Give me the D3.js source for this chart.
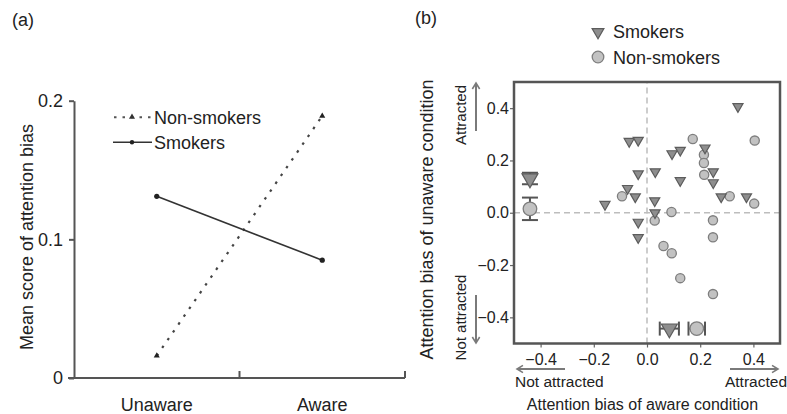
<!DOCTYPE html>
<html><head><meta charset="utf-8">
<script src="https://cdn.jsdelivr.net/npm/d3@7"></script>
<style>body{margin:0;background:#fff}text{font-family:"Liberation Sans",Arial,sans-serif;fill:#222}</style>
</head><body>
<svg id="c" width="787" height="414"></svg>
<script>
// ---- Panel (a) data ----
const conditions = ["Unaware", "Aware"];
const smokersMean = [0.131, 0.085];
const nonSmokersMean = [0.016, 0.189];
const yTicksA = [0, 0.1, 0.2];

// ---- Panel (b) data (x = aware bias, y = unaware bias) ----
const smokersX = [0.342, -0.067, -0.033, 0.218, 0.094, 0.125, -0.033, 0.031, 0.249, 0.249, 0.125, -0.073, -0.044, -0.158, 0.029, 0.030, -0.033, -0.033, 0.279, 0.374];
const smokersY = [0.406, 0.273, 0.277, 0.248, 0.226, 0.239, 0.149, 0.157, 0.157, 0.115, 0.123, 0.093, 0.061, 0.032, 0.046, 0.000, -0.036, -0.095, 0.061, 0.061];
const nonSmokersX = [0.172, 0.405, 0.214, 0.214, 0.215, -0.094, 0.311, 0.403, 0.092, 0.029, 0.248, 0.248, 0.062, 0.093, 0.125, 0.248];
const nonSmokersY = [0.282, 0.276, 0.222, 0.190, 0.145, 0.063, 0.063, 0.035, 0.003, -0.030, -0.029, -0.094, -0.127, -0.155, -0.250, -0.311];
// group means [unaware, aware] and standard errors
const smokersMeanB = [0.131, 0.084];
const smokersErrB = [0.022, 0.036];
const nonSmokersMeanB = [0.015, 0.187];
const nonSmokersErrB = [0.043, 0.031];
const meanPos = -0.44; // where the marginal means are placed
const ticksB = [-0.4, -0.2, 0, 0.2, 0.4];

const svg = d3.select("#c");
const axisCol = "#555";

// ================= Panel (a) =================
const xA = d3.scaleBand().domain(conditions).range([74, 405]);
const yA = d3.scaleLinear().domain([0, 0.2]).range([378, 100.7]);
const gA = svg.append("g");

gA.append("text").attr("x", 12).attr("y", 26).style("font-size", "18px").text("(a)");

// y axis
const yAx = gA.append("g").attr("transform", "translate(74,0)")
  .call(d3.axisLeft(yA).tickValues(yTicksA).tickSize(5).tickSizeOuter(0).tickPadding(6)
    .tickFormat(d => d === 0 ? "0" : d3.format(".1f")(d)));
yAx.selectAll("path,line").attr("stroke", axisCol).attr("stroke-width", 2);
yAx.selectAll("text").style("font-size", "18px").style("font-family", "Liberation Sans, Arial, sans-serif").attr("fill", "#222");

// x axis
const xAx = gA.append("g").attr("transform", "translate(0,378)")
  .call(d3.axisBottom(xA).tickSize(0).tickPadding(20));
xAx.select(".domain").remove();
xAx.selectAll("text").style("font-size", "18px").style("font-family", "Liberation Sans, Arial, sans-serif").attr("fill", "#222");
gA.append("line").attr("x1", 68).attr("x2", xA.range()[1]).attr("y1", 378).attr("y2", 378)
  .attr("stroke", axisCol).attr("stroke-width", 2);
conditions.forEach(c => {
  const xb = xA(c) + xA.bandwidth();
  gA.append("line").attr("x1", xb).attr("x2", xb).attr("y1", 378).attr("y2", 371)
    .attr("stroke", axisCol).attr("stroke-width", 2);
});

gA.append("text").attr("transform", "translate(33,237) rotate(-90)").attr("text-anchor", "middle")
  .style("font-size", "18px").text("Mean score of attention bias");

const cx = c => xA(c) + xA.bandwidth() / 2;
const lineA = d3.line().x((d, i) => cx(conditions[i])).y(d => yA(d));
gA.append("path").attr("d", lineA(nonSmokersMean)).attr("fill", "none")
  .attr("stroke", "#444").attr("stroke-width", 2.2).attr("stroke-dasharray", "2.5,7");
gA.append("path").attr("d", lineA(smokersMean)).attr("fill", "none")
  .attr("stroke", "#333").attr("stroke-width", 1.6);
const triSmall = d3.symbol().type(d3.symbolTriangle).size(16);
nonSmokersMean.forEach((v, i) => {
  gA.append("path").attr("d", triSmall()).attr("transform", `translate(${cx(conditions[i])},${yA(v)})`).attr("fill", "#222");
});
smokersMean.forEach((v, i) => {
  gA.append("circle").attr("cx", cx(conditions[i])).attr("cy", yA(v)).attr("r", 2.6).attr("fill", "#222");
});

// legend (a)
gA.append("line").attr("x1", 114).attr("x2", 152).attr("y1", 117.3).attr("y2", 117.3)
  .attr("stroke", "#555").attr("stroke-width", 2).attr("stroke-dasharray", "2.5,6");
gA.append("path").attr("d", triSmall()).attr("transform", "translate(132,117)").attr("fill", "#333");
gA.append("text").attr("x", 154).attr("y", 123.5).style("font-size", "18px").text("Non-smokers");
gA.append("line").attr("x1", 113).attr("x2", 152).attr("y1", 142.3).attr("y2", 142.3)
  .attr("stroke", "#333").attr("stroke-width", 1.6);
gA.append("circle").attr("cx", 132).attr("cy", 142.3).attr("r", 2.2).attr("fill", "#222");
gA.append("text").attr("x", 154).attr("y", 148.5).style("font-size", "18px").text("Smokers");

// ================= Panel (b) =================
const xB = d3.scaleLinear().domain([-0.5, 0.5]).range([514, 780]);
const yB = d3.scaleLinear().domain([-0.5, 0.5]).range([343.5, 82]);
const gB = svg.append("g");

gB.append("text").attr("x", 415).attr("y", 24).style("font-size", "18px").text("(b)");

// axes
const fmtB = d3.format(".1f");
const yBx = gB.append("g").attr("transform", `translate(${xB.range()[0]},0)`)
  .call(d3.axisLeft(yB).tickValues(ticksB).tickSize(4).tickSizeOuter(0).tickPadding(1).tickFormat(fmtB));
const xBx = gB.append("g").attr("transform", `translate(0,${yB.range()[0]})`)
  .call(d3.axisBottom(xB).tickValues(ticksB).tickSize(4).tickSizeOuter(0).tickPadding(6).tickFormat(fmtB));
[yBx, xBx].forEach(a => {
  a.select(".domain").remove();
  a.selectAll("line").attr("stroke", "#666").attr("stroke-width", 1.2);
  a.selectAll("text").style("font-size", "16px").style("font-family", "Liberation Sans, Arial, sans-serif").attr("fill", "#222");
});

// zero lines
gB.append("line").attr("x1", xB(0)).attr("x2", xB(0)).attr("y1", yB(-0.5)).attr("y2", yB(0.5))
  .attr("stroke", "#bdbdbd").attr("stroke-width", 1.5).attr("stroke-dasharray", "6,4");
gB.append("line").attr("x1", xB(-0.5)).attr("x2", xB(0.5)).attr("y1", yB(0)).attr("y2", yB(0))
  .attr("stroke", "#bdbdbd").attr("stroke-width", 1.5).attr("stroke-dasharray", "6,4");

// box
gB.append("rect").attr("x", xB(-0.5)).attr("y", yB(0.5))
  .attr("width", xB(0.5) - xB(-0.5)).attr("height", yB(-0.5) - yB(0.5))
  .attr("fill", "none").attr("stroke", axisCol).attr("stroke-width", 2.5);

const triB = d3.symbol().type(d3.symbolTriangle).size(44);
const triBig = d3.symbol().type(d3.symbolTriangle).size(110);
const triFill = "#8e8e8e", triStroke = "#5c5c5c";
const cirFill = "#c2c2c2", cirStroke = "#7e7e7e";

// individual points
nonSmokersX.forEach((x, i) => {
  gB.append("circle").attr("cx", xB(x)).attr("cy", yB(nonSmokersY[i])).attr("r", 4.6)
    .attr("fill", cirFill).attr("stroke", cirStroke).attr("stroke-width", 1.3);
});
smokersX.forEach((x, i) => {
  gB.append("path").attr("d", triB()).attr("transform", `translate(${xB(x)},${yB(smokersY[i])}) rotate(180)`)
    .attr("fill", triFill).attr("stroke", triStroke).attr("stroke-width", 1.2);
});

// marginal means with error bars
const capW = 8;
function vErr(xv, m, e) {
  const X = xB(xv);
  gB.append("line").attr("x1", X).attr("x2", X).attr("y1", yB(m - e)).attr("y2", yB(m + e)).attr("stroke", axisCol).attr("stroke-width", 2);
  [m - e, m + e].forEach(v => gB.append("line").attr("x1", X - capW).attr("x2", X + capW).attr("y1", yB(v)).attr("y2", yB(v)).attr("stroke", axisCol).attr("stroke-width", 2));
}
function hErr(yv, m, e) {
  const Y = yB(yv);
  gB.append("line").attr("y1", Y).attr("y2", Y).attr("x1", xB(m - e)).attr("x2", xB(m + e)).attr("stroke", axisCol).attr("stroke-width", 2);
  [m - e, m + e].forEach(v => gB.append("line").attr("y1", Y - 7).attr("y2", Y + 7).attr("x1", xB(v)).attr("x2", xB(v)).attr("stroke", axisCol).attr("stroke-width", 2));
}
// unaware means (left, vertical bars)
vErr(meanPos, smokersMeanB[0], smokersErrB[0]);
gB.append("path").attr("d", triBig()).attr("transform", `translate(${xB(meanPos)},${yB(smokersMeanB[0])}) rotate(180)`)
  .attr("fill", triFill).attr("stroke", triStroke).attr("stroke-width", 1.2);
vErr(meanPos, nonSmokersMeanB[0], nonSmokersErrB[0]);
gB.append("circle").attr("cx", xB(meanPos)).attr("cy", yB(nonSmokersMeanB[0])).attr("r", 6.8)
  .attr("fill", cirFill).attr("stroke", cirStroke).attr("stroke-width", 1.3);
// aware means (bottom, horizontal bars)
const meanPosY = -0.443;
hErr(meanPosY, smokersMeanB[1], smokersErrB[1]);
gB.append("path").attr("d", triBig()).attr("transform", `translate(${xB(smokersMeanB[1])},${yB(meanPosY)}) rotate(180)`)
  .attr("fill", triFill).attr("stroke", triStroke).attr("stroke-width", 1.2);
hErr(meanPosY, nonSmokersMeanB[1], nonSmokersErrB[1]);
gB.append("circle").attr("cx", xB(nonSmokersMeanB[1])).attr("cy", yB(meanPosY)).attr("r", 6.8)
  .attr("fill", cirFill).attr("stroke", cirStroke).attr("stroke-width", 1.3);

// legend (b)
gB.append("path").attr("d", d3.symbol().type(d3.symbolTriangle).size(60)()).attr("transform", "translate(598,32) rotate(180)")
  .attr("fill", triFill).attr("stroke", triStroke).attr("stroke-width", 1.2);
gB.append("text").attr("x", 613).attr("y", 37.5).style("font-size", "18px").text("Smokers");
gB.append("circle").attr("cx", 598).attr("cy", 57).attr("r", 5.8)
  .attr("fill", cirFill).attr("stroke", cirStroke).attr("stroke-width", 1.3);
gB.append("text").attr("x", 613).attr("y", 63.5).style("font-size", "18px").text("Non-smokers");

// axis titles
gB.append("text").attr("transform", "translate(433,219.5) rotate(-90)").attr("text-anchor", "middle")
  .style("font-size", "18px").text("Attention bias of unaware condition");
gB.append("text").attr("x", 642.5).attr("y", 410).attr("text-anchor", "middle")
  .style("font-size", "16px").text("Attention bias of aware condition");

// direction arrows
const arrCol = "#7a7a7a";
function arrow(x1, y1, x2, y2) {
  gB.append("line").attr("x1", x1).attr("y1", y1).attr("x2", x2).attr("y2", y2).attr("stroke", arrCol).attr("stroke-width", 2);
  const a = Math.atan2(y2 - y1, x2 - x1), L = 7, w = 0.55;
  const p = [[x2 - L * Math.cos(a - w), y2 - L * Math.sin(a - w)], [x2, y2], [x2 - L * Math.cos(a + w), y2 - L * Math.sin(a + w)]];
  gB.append("path").attr("d", d3.line()(p)).attr("fill", "none").attr("stroke", arrCol).attr("stroke-width", 1.6);
}
arrow(476, 131, 476, 83);
arrow(476, 295, 476, 343);
arrow(565, 369, 517, 369);
arrow(730, 369, 778, 369);

gB.append("text").attr("transform", "translate(465.5,115) rotate(-90)").attr("text-anchor", "middle")
  .style("font-size", "15px").text("Attracted");
gB.append("text").attr("transform", "translate(465.5,317.5) rotate(-90)").attr("text-anchor", "middle")
  .style("font-size", "15px").text("Not attracted");
gB.append("text").attr("x", 515).attr("y", 386.5).style("font-size", "15.5px").text("Not attracted");
gB.append("text").attr("x", 787).attr("y", 386.5).attr("text-anchor", "end").style("font-size", "15.5px").text("Attracted");
</script>
</body></html>
